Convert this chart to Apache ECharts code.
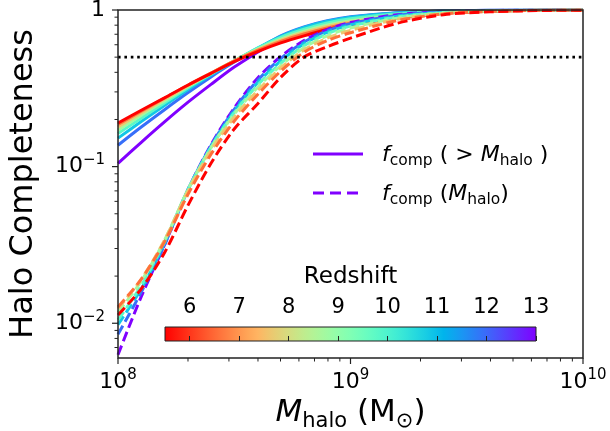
<!DOCTYPE html>
<html><head><meta charset="utf-8">
<script src="https://cdn.jsdelivr.net/npm/echarts@6/dist/echarts.min.js"></script>
<style>html,body{margin:0;padding:0;background:#fff}#c{width:610px;height:431px}</style>
</head><body><div id="c"></div>
<script>
// ---------------- data ----------------
const redshifts = [6, 7, 8, 9, 10, 11, 12, 13];
const haloMass = [1e8, 1.259e8, 1.585e8, 1.995e8, 2.512e8, 3.162e8, 3.981e8, 5.012e8, 6.310e8, 7.943e8, 1e9, 1.585e9, 2.512e9, 3.981e9, 6.310e9, 1e10];

// cumulative completeness f_comp(>M_halo), solid lines
const cumZ6  = [0.190,0.229,0.275,0.331,0.394,0.468,0.543,0.617,0.684,0.750,0.804,0.887,0.951,0.982,0.995,1.0];
const cumZ7  = [0.186,0.226,0.274,0.331,0.396,0.472,0.552,0.631,0.703,0.769,0.822,0.902,0.957,0.986,0.997,1.0];
const cumZ8  = [0.179,0.220,0.269,0.327,0.395,0.473,0.557,0.641,0.718,0.785,0.839,0.914,0.964,0.989,0.998,1.0];
const cumZ9  = [0.171,0.213,0.263,0.324,0.394,0.474,0.562,0.652,0.733,0.802,0.855,0.925,0.968,0.991,0.998,1.0];
const cumZ10 = [0.163,0.204,0.255,0.318,0.390,0.474,0.569,0.668,0.753,0.828,0.881,0.946,0.979,0.993,0.998,1.0];
const cumZ11 = [0.152,0.194,0.246,0.310,0.385,0.471,0.571,0.679,0.773,0.847,0.899,0.957,0.984,0.995,0.998,1.0];
const cumZ12 = [0.137,0.179,0.231,0.296,0.374,0.465,0.564,0.684,0.780,0.855,0.906,0.962,0.986,0.995,0.998,1.0];
const cumZ13 = [0.105,0.143,0.193,0.257,0.335,0.432,0.537,0.661,0.762,0.841,0.895,0.957,0.984,0.995,0.998,1.0];

// differential completeness f_comp(M_halo), dashed lines
const diffZ6  = [0.0113,0.0166,0.0282,0.0562,0.105,0.174,0.251,0.372,0.501,0.582,0.661,0.822,0.933,0.973,0.991,0.998];
const diffZ7  = [0.0127,0.0191,0.0331,0.0661,0.120,0.195,0.288,0.407,0.537,0.638,0.716,0.855,0.944,0.980,0.993,0.998];
const diffZ8  = [0.0124,0.0191,0.0339,0.0692,0.127,0.207,0.305,0.427,0.556,0.661,0.741,0.871,0.951,0.982,0.994,1.0];
const diffZ9  = [0.0117,0.0186,0.0339,0.0708,0.132,0.216,0.320,0.442,0.575,0.684,0.767,0.887,0.957,0.984,0.995,1.0];
const diffZ10 = [0.0105,0.0174,0.0331,0.0708,0.133,0.221,0.331,0.457,0.592,0.705,0.789,0.902,0.964,0.986,0.995,1.0];
const diffZ11 = [0.0098,0.0166,0.0324,0.0708,0.135,0.226,0.343,0.473,0.610,0.721,0.805,0.912,0.968,0.989,0.997,1.0];
const diffZ12 = [0.0085,0.0158,0.0316,0.0708,0.136,0.232,0.355,0.490,0.624,0.736,0.818,0.923,0.973,0.991,0.998,1.0];
const diffZ13 = [0.0063,0.0148,0.0316,0.0708,0.138,0.237,0.367,0.505,0.638,0.750,0.832,0.933,0.977,0.993,0.998,1.0];

const thresholdLevel = 0.5;
const xRange = [1e8, 1e10];
const yRange = [0.006, 1];
const xMajorTicks = [1e8, 1e9, 1e10];
const yMajorTicks = [0.01, 0.1, 1];
const xMinorTicks = [2e8,3e8,4e8,5e8,6e8,7e8,8e8,9e8,2e9,3e9,4e9,5e9,6e9,7e9,8e9,9e9];
const yMinorTicks = [0.007,0.008,0.009,0.02,0.03,0.04,0.05,0.06,0.07,0.08,0.09,0.2,0.3,0.4,0.5,0.6,0.7,0.8,0.9];
const colorbarRange = [5.5, 13];
const colorbarTicks = [6, 7, 8, 9, 10, 11, 12, 13];
const legendLabels = ['cumulative', 'differential'];

// ---------------- styling ----------------
const FONT = 'DejaVu Sans';
const cumAll = [cumZ6, cumZ7, cumZ8, cumZ9, cumZ10, cumZ11, cumZ12, cumZ13];
const diffAll = [diffZ6, diffZ7, diffZ8, diffZ9, diffZ10, diffZ11, diffZ12, diffZ13];

function rainbow(x) {
  const r = Math.min(1, Math.abs(2 * x - 0.5));
  const g = Math.max(0, Math.sin(Math.PI * x));
  const b = Math.max(0, Math.cos(Math.PI * x / 2));
  return 'rgb(' + Math.round(r * 255) + ',' + Math.round(g * 255) + ',' + Math.round(b * 255) + ')';
}
function lineColor(z) { return rainbow(1 - (z - 6) / 7); }

const cbStops = [];
for (let i = 0; i <= 40; i++) { const t = i / 40; cbStops.push({ offset: t, color: rainbow(1 - t) }); }

function powLabel(v) {
  const l = Math.log10(v), e = Math.round(l);
  if (Math.abs(l - e) > 1e-6) return '';
  if (e === 0) return '{b|1}';
  return '{b|10}{s|' + (e < 0 ? '\u2212' + (-e) : e) + '}';
}
const tickRich = {
  b: { fontSize: 22, lineHeight: 28, fontFamily: FONT, color: '#000', verticalAlign: 'middle' },
  s: { fontSize: 15, lineHeight: 15, fontFamily: FONT, color: '#000', verticalAlign: 'top' }
};

const series = [];
for (let k = redshifts.length - 1; k >= 0; k--) {
  series.push({
    type: 'line', name: legendLabels[0] + ' z=' + redshifts[k], xAxisIndex: 0, yAxisIndex: 0,
    data: haloMass.map((m, i) => [m, cumAll[k][i]]),
    showSymbol: false, symbol: 'none', smooth: 0.3, z: 3,
    lineStyle: { color: lineColor(redshifts[k]), width: 3 }
  });
}
for (let k = redshifts.length - 1; k >= 0; k--) {
  series.push({
    type: 'line', name: legendLabels[1] + ' z=' + redshifts[k], xAxisIndex: 0, yAxisIndex: 0,
    data: haloMass.map((m, i) => [m, diffAll[k][i]]),
    showSymbol: false, symbol: 'none', smooth: 0.3, z: 4,
    lineStyle: { color: lineColor(redshifts[k]), width: 3, type: [10, 4.5] }
  });
}
series.push({
  type: 'line', xAxisIndex: 0, yAxisIndex: 0, z: 6,
  data: [[xRange[0], thresholdLevel], [xRange[1], thresholdLevel]],
  showSymbol: false, symbol: 'none',
  lineStyle: { color: '#000', width: 2.6, type: [2.6, 3.8], cap: 'butt' }
});
// frame and ticks drawn through the axis scales
series.push({
  type: 'custom', xAxisIndex: 0, yAxisIndex: 0, z: 8, silent: true, clip: false,
  data: [[1e9, 0.1]],
  renderItem: function (params, api) {
    const ch = [];
    const st = { stroke: '#222', lineWidth: 1.2 };
    const bl = api.coord([xRange[0], yRange[0]]);
    const tr = api.coord([xRange[1], yRange[1]]);
    ch.push({ type: 'rect', shape: { x: bl[0], y: tr[1], width: tr[0] - bl[0], height: bl[1] - tr[1] }, style: { fill: 'none', stroke: '#222', lineWidth: 1.5 } });
    xMajorTicks.forEach(v => { const p = api.coord([v, yRange[0]]); ch.push({ type: 'line', shape: { x1: p[0], y1: p[1], x2: p[0], y2: p[1] + 6 }, style: st }); });
    xMinorTicks.forEach(v => { const p = api.coord([v, yRange[0]]); ch.push({ type: 'line', shape: { x1: p[0], y1: p[1], x2: p[0], y2: p[1] + 3.5 }, style: { stroke: '#222', lineWidth: 1 } }); });
    yMajorTicks.forEach(v => { const p = api.coord([xRange[0], v]); ch.push({ type: 'line', shape: { x1: p[0], y1: p[1], x2: p[0] - 6, y2: p[1] }, style: st }); });
    yMinorTicks.forEach(v => { const p = api.coord([xRange[0], v]); ch.push({ type: 'line', shape: { x1: p[0], y1: p[1], x2: p[0] - 3.5, y2: p[1] }, style: { stroke: '#222', lineWidth: 1 } }); });
    return { type: 'group', children: ch };
  }
});

const legendRich = {
  f: { fontSize: 22, fontStyle: 'italic', fontFamily: FONT, color: '#000', lineHeight: 28 },
  n: { fontSize: 22, fontFamily: FONT, color: '#000', lineHeight: 28 },
  s: { fontSize: 15.5, fontFamily: FONT, color: '#000', lineHeight: 15, verticalAlign: 'bottom' }
};

const option = {
  animation: false,
  backgroundColor: '#fff',
  grid: [
    { left: 118, right: 27, top: 10, bottom: 73, show: false, containLabel: false, outerBoundsMode: 'none' },
    { left: 165, top: 327, width: 371, height: 14, show: true, borderColor: '#222', borderWidth: 1,
      containLabel: false, outerBoundsMode: 'none',
      backgroundColor: { type: 'linear', x: 0, y: 0, x2: 1, y2: 0, colorStops: cbStops } }
  ],
  xAxis: [
    { gridIndex: 0, type: 'log', logBase: 10, min: xRange[0], max: xRange[1],
      axisLine: { show: false }, axisTick: { show: false }, splitLine: { show: false },
      axisLabel: { formatter: powLabel, rich: tickRich, margin: 10, showMinLabel: true, showMaxLabel: true },
      name: '{i|M}{s|halo}{n| (M}{s|\u2299}{n|)}', nameLocation: 'middle', nameGap: 34,
      nameTextStyle: { rich: {
        i: { fontSize: 31, fontStyle: 'italic', fontFamily: FONT, color: '#000', lineHeight: 38 },
        n: { fontSize: 31, fontFamily: FONT, color: '#000', lineHeight: 38 },
        s: { fontSize: 21, fontFamily: FONT, color: '#000', lineHeight: 21, verticalAlign: 'bottom' } } } },
    { gridIndex: 1, type: 'value', min: colorbarRange[0], max: colorbarRange[1], position: 'top',
      axisLine: { show: false }, splitLine: { show: false },
      axisTick: { show: true, customValues: colorbarTicks, length: 5, lineStyle: { color: '#222', width: 1 } },
      axisLabel: { customValues: colorbarTicks, fontSize: 21, fontFamily: FONT, color: '#000', margin: 9 },
      name: 'Redshift', nameLocation: 'middle', nameGap: 38,
      nameTextStyle: { fontSize: 23, fontFamily: FONT, color: '#000' } }
  ],
  yAxis: [
    { gridIndex: 0, type: 'log', logBase: 10, min: yRange[0], max: yRange[1],
      axisLine: { show: false }, axisTick: { show: false }, splitLine: { show: false },
      axisLabel: { formatter: powLabel, rich: tickRich, margin: 13, showMinLabel: false },
      name: 'Halo Completeness', nameLocation: 'middle', nameGap: 78,
      nameTextStyle: { fontSize: 32, fontFamily: FONT, color: '#000' } },
    { gridIndex: 1, type: 'value', min: 0, max: 1, show: false }
  ],
  graphic: [
    { type: 'line', z: 20, shape: { x1: 313, y1: 154, x2: 363, y2: 154 }, style: { stroke: lineColor(13), lineWidth: 3 } },
    { type: 'line', z: 20, shape: { x1: 313, y1: 193, x2: 363, y2: 193 }, style: { stroke: lineColor(13), lineWidth: 3, lineDash: [11, 6] } },
    { type: 'text', z: 20, x: 382, y: 155, style: { text: '{f|f}{s|comp}{n| ( > }{f|M}{s|halo}{n| )}', rich: legendRich, verticalAlign: 'middle', textVerticalAlign: 'middle' } },
    { type: 'text', z: 20, x: 382, y: 194, style: { text: '{f|f}{s|comp}{n| (}{f|M}{s|halo}{n|)}', rich: legendRich, verticalAlign: 'middle', textVerticalAlign: 'middle' } }
  ],
  series: series
};
const chart = echarts.init(document.getElementById('c'), null, { renderer: 'canvas', devicePixelRatio: 1 });
chart.setOption(option);
</script></body></html>
